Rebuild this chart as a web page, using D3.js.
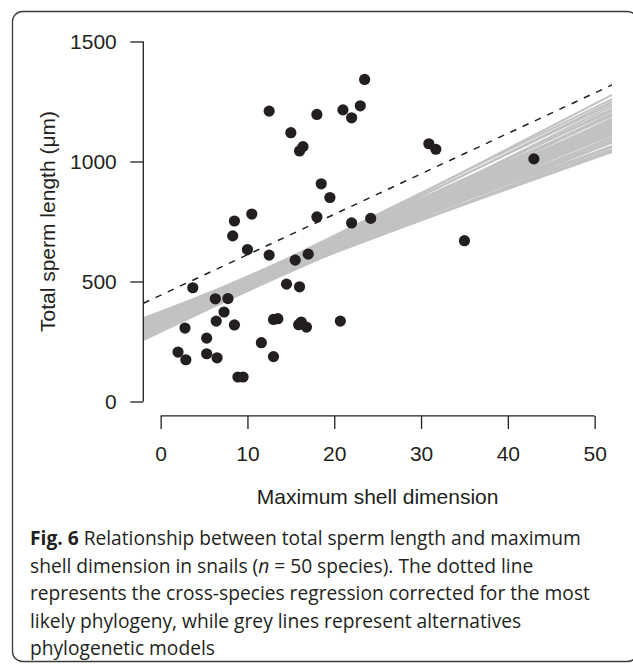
<!DOCTYPE html>
<html>
<head>
<meta charset="utf-8">
<script src="https://cdn.jsdelivr.net/npm/d3@7"></script>
<style>
  body { margin: 0; background: #fff; }
  svg { display: block; }
</style>
</head>
<body>
<svg id="chart" width="633" height="664"></svg>
<script>
// Species data: maximum shell dimension vs total sperm length
var shellSize = [12.5, 18.0, 15.0, 16.4, 16.0, 18.5, 19.5, 18.0, 10.5, 8.5,
                 8.3, 23.5, 21.0, 23.0, 22.0, 30.9, 31.7, 22.0, 24.2, 35.0,
                 43.0, 17.0, 15.5, 16.0, 20.7, 10.0, 12.5, 3.7, 6.3, 7.75,
                 7.3, 6.4, 8.5, 2.8, 5.3, 14.5, 13.0, 13.5, 15.9, 16.2,
                 16.8, 11.6, 2.0, 2.9, 5.3, 6.5, 13.0, 8.9, 9.5];
var spermLength = [1210, 1196, 1120, 1062, 1044, 907, 850, 769, 781, 752,
                   690, 1342, 1215, 1232, 1182, 1074, 1051, 744, 763, 670,
                   1011, 614, 589, 478, 335, 633, 610, 474, 428, 429,
                   373, 335, 319, 306, 264, 489, 342, 345, 320, 331,
                   310, 245, 206, 174, 199, 182, 187, 102, 102];

// Regression corrected for the most likely phylogeny (dotted line)
var bestIntercept = 443;
var bestSlope = 16.85;

// Alternative phylogenetic models (grey lines)
var modelIntercept = [290.2, 297.9, 305.4, 302.6, 309.3, 315.9, 315.9, 320.9, 326.2, 325.8,
                      331.9, 337.7, 334.7, 340.7, 344.7, 343.6, 347.9, 353.4, 351.9, 357.0,
                      362.3, 361.3, 366.0, 371.2, 370.7, 374.3, 335.6, 321.5, 348.1, 361.9,
                      294.0, 300.5, 307.8, 312.4, 318.6, 324.0, 329.5, 333.0, 338.9, 342.2,
                      346.0, 350.1, 355.6, 359.0, 364.4, 368.2, 372.5, 311.0, 328.0, 356.5];
var modelSlope = [17.11, 17.93, 18.69, 16.30, 17.13, 17.96, 15.46, 16.43, 17.09, 14.89,
                  15.93, 17.35, 14.33, 15.37, 16.35, 13.78, 14.94, 15.70, 13.43, 14.48,
                  15.15, 13.15, 14.02, 14.59, 12.87, 13.67, 17.78, 15.74, 16.57, 15.93,
                  16.70, 16.05, 17.52, 15.80, 16.85, 15.20, 16.10, 14.70, 15.55, 16.00,
                  14.10, 15.05, 14.25, 13.95, 14.80, 13.40, 14.35, 16.95, 15.60, 14.60];

var xTicks = [0, 10, 20, 30, 40, 50];
var yTicks = [0, 500, 1000, 1500];

var captionLines = [
  [["Fig. 6", "bold"], [" Relationship between total sperm length and maximum", ""]],
  [["shell dimension in snails (", ""], ["n", "italic"], [" = 50 species). The dotted line", ""]],
  [["represents the cross-species regression corrected for the most", ""]],
  [["likely phylogeny, while grey lines represent alternatives", ""]],
  [["phylogenetic models", ""]]
];

var svg = d3.select('#chart');

// Frame round the figure
svg.append('rect')
    .attr('x', 12.5).attr('y', 11.5)
    .attr('width', 625).attr('height', 650)
    .attr('rx', 10).attr('ry', 10)
    .attr('fill', 'none')
    .attr('stroke', '#3a3a3a')
    .attr('stroke-width', 1.3);

// Scales (R style: 4% padding round xlim 0..50 and ylim 0..1500)
var xScale = d3.scaleLinear().domain([-2, 52]).range([143.3, 612]);
var yScale = d3.scaleLinear().domain([-60, 1560]).range([415.9, 27.1]);

var ink = '#231f20';

svg.append('clipPath').attr('id', 'plotClip')
    .append('rect')
    .attr('x', xScale(-2)).attr('y', yScale(1560))
    .attr('width', xScale(52) - xScale(-2))
    .attr('height', yScale(-60) - yScale(1560));

var plot = svg.append('g').attr('clip-path', 'url(#plotClip)');

var lineFor = function(a, b) {
    return d3.line()
        .x(function(d) { return xScale(d); })
        .y(function(d) { return yScale(a + b * d); })([-2, 52]);
};

// Grey model lines
plot.selectAll('path.model')
    .data(modelIntercept)
    .enter().append('path')
    .attr('class', 'model')
    .attr('d', function(d, i) { return lineFor(d, modelSlope[i]); })
    .attr('fill', 'none')
    .attr('stroke', '#c2c2c4')
    .attr('stroke-width', 2);

// Dotted line
plot.append('path')
    .attr('d', lineFor(bestIntercept, bestSlope))
    .attr('fill', 'none')
    .attr('stroke', ink)
    .attr('stroke-width', 1.5)
    .attr('stroke-dasharray', '6.5,7');

// Points
svg.selectAll('circle.pt')
    .data(shellSize)
    .enter().append('circle')
    .attr('class', 'pt')
    .attr('cx', function(d) { return xScale(d); })
    .attr('cy', function(d, i) { return yScale(spermLength[i]); })
    .attr('r', 5.6)
    .attr('fill', ink);

// Axes
var axisFont = '"Liberation Sans", Arial, sans-serif';

var yAxis = svg.append('g')
    .attr('transform', 'translate(' + xScale(-2) + ',0)')
    .call(d3.axisLeft(yScale).tickValues(yTicks).tickFormat(d3.format('d'))
        .tickSize(13).tickPadding(13.5));
yAxis.select('.domain').remove();
yAxis.append('line')
    .attr('y1', yScale(0)).attr('y2', yScale(1500))
    .attr('stroke', ink).attr('stroke-width', 1.3);

var xAxis = svg.append('g')
    .attr('transform', 'translate(0,' + yScale(-60) + ')')
    .call(d3.axisBottom(xScale).tickValues(xTicks).tickFormat(d3.format('d'))
        .tickSize(13).tickPadding(17.5));
xAxis.select('.domain').remove();
xAxis.append('line')
    .attr('x1', xScale(0)).attr('x2', xScale(50))
    .attr('stroke', ink).attr('stroke-width', 1.3);

svg.selectAll('.tick line').attr('stroke', ink).attr('stroke-width', 1.3);
svg.selectAll('.tick text')
    .attr('fill', ink)
    .style('font-family', axisFont)
    .style('font-size', '21px');

// Axis titles
svg.append('text')
    .attr('transform', 'translate(55,' + yScale(750) + ') rotate(-90)')
    .attr('text-anchor', 'middle')
    .attr('fill', ink)
    .style('font-family', axisFont)
    .style('font-size', '21px')
    .text('Total sperm length (\u03bcm)');

svg.append('text')
    .attr('x', (xScale(-2) + xScale(52)) / 2)
    .attr('y', 504)
    .attr('text-anchor', 'middle')
    .attr('fill', ink)
    .style('font-family', axisFont)
    .style('font-size', '21px')
    .text('Maximum shell dimension');

// Caption
var caption = svg.append('g')
    .style('font-family', '"Open Sans", "Noto Sans", sans-serif')
    .style('font-size', '19.2px')
    .attr('fill', '#231f20');

captionLines.forEach(function(parts, i) {
    var t = caption.append('text')
        .attr('x', 30)
        .attr('y', 545 + i * 27.6);
    parts.forEach(function(p) {
        var s = t.append('tspan').text(p[0]);
        if (p[1] == 'bold') s.style('font-weight', 'bold');
        if (p[1] == 'italic') s.style('font-style', 'italic');
    });
});
</script>
</body>
</html>
